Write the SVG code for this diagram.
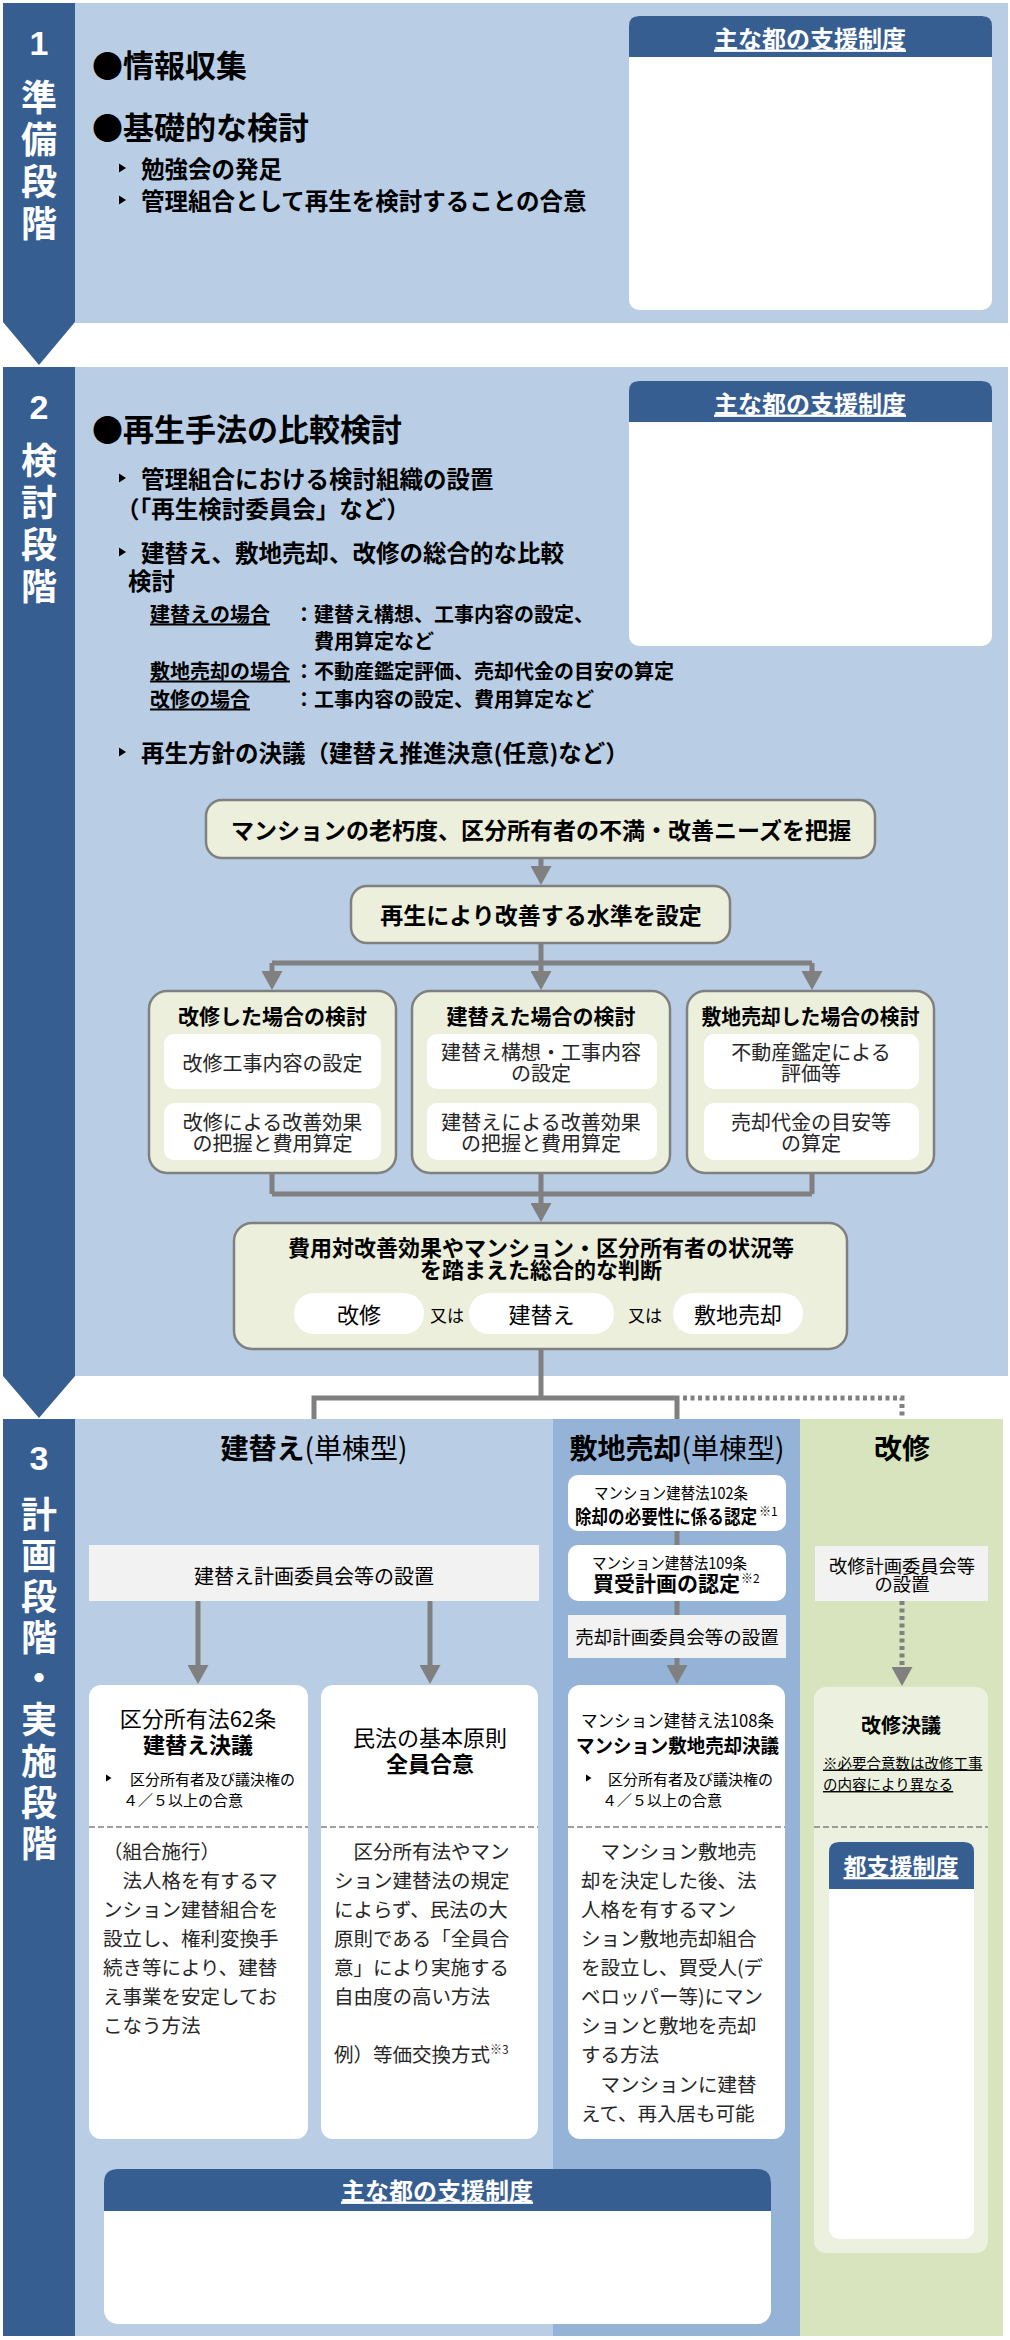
<svg xmlns="http://www.w3.org/2000/svg" width="1010" height="2340" viewBox="0 0 1010 2340">
<defs>
<style>
text{font-family:"Noto Sans CJK JP","Noto Sans",sans-serif;dominant-baseline:central;fill:#000}
.b{font-weight:700}
.m{text-anchor:middle}
.w{fill:#fff}
.u{text-decoration:underline}
.stage{font-size:36px;font-weight:700;fill:#fff;text-anchor:middle}
.num{font-size:34px;font-weight:700;fill:#fff;text-anchor:middle;font-family:"Liberation Sans",sans-serif}
.h1{font-size:31px;font-weight:700}
.li{font-size:23.5px;font-weight:700}
.sm{font-size:20px;font-weight:700}
.flow{fill:#EBEFDC;stroke:#808080;stroke-width:2.5}
.ft{font-size:20px;fill:#262626;text-anchor:middle}
.body{font-size:19.5px;fill:#262626}
.conn{fill:none;stroke:#808080;stroke-width:5}
.hdr{fill:#375E91}
.dash{stroke:#808080;stroke-width:1.5;stroke-dasharray:6 3}
.hd{font-size:24px;font-weight:700;fill:#fff;text-anchor:middle;text-decoration:underline}
</style>
<marker id="ah" markerUnits="userSpaceOnUse" markerWidth="19" markerHeight="21" refX="1" refY="10.5" orient="auto" viewBox="0 0 19 21"><path d="M0,0 L19,10.5 L0,21 Z" fill="#808080"/></marker>
<polygon id="tri" points="0,-4.5 7,0 0,4.5" fill="#000"/>
<polygon id="tris" points="0,-3.5 5.5,0 0,3.5" fill="#000"/>
</defs>

<!-- Section backgrounds -->
<g id="stage1">
<rect x="75" y="3" width="933" height="320" fill="#B9CDE5"/>
<path d="M3,3 H75 V322 L39,365 L3,322 Z" fill="#375E91"/>
<text class="num" x="39" y="43">1</text>
<text class="stage" x="39" y="95">準</text>
<text class="stage" x="39" y="137">備</text>
<text class="stage" x="39" y="179">段</text>
<text class="stage" x="39" y="221">階</text>
</g>
<g id="stage2">
<rect x="75" y="367" width="933" height="1009" fill="#B9CDE5"/>
<path d="M3,367 H75 V1376 L39,1418 L3,1376 Z" fill="#375E91"/>
<text class="num" x="39" y="407">2</text>
<text class="stage" x="39" y="458">検</text>
<text class="stage" x="39" y="500">討</text>
<text class="stage" x="39" y="542">段</text>
<text class="stage" x="39" y="584">階</text>
</g>
<g id="stage3">
<rect x="75" y="1419" width="478" height="917" fill="#B9CDE5"/>
<rect x="553" y="1419" width="247" height="917" fill="#95B3D7"/>
<rect x="800" y="1419" width="203" height="917" fill="#D7E4BD"/>
<path d="M3,1419 H75 V2336 H3 Z" fill="#375E91"/>
<text class="num" x="39" y="1458">3</text>
<text class="stage" x="39" y="1512">計</text>
<text class="stage" x="39" y="1553">画</text>
<text class="stage" x="39" y="1594">段</text>
<text class="stage" x="39" y="1635">階</text>
<text class="stage" x="39" y="1676">・</text>
<text class="stage" x="39" y="1717">実</text>
<text class="stage" x="39" y="1759">施</text>
<text class="stage" x="39" y="1800">段</text>
<text class="stage" x="39" y="1841">階</text>
</g>

<!-- Section 1 content -->
<g id="s1-text">
<text class="h1" x="92" y="63">●情報収集</text>
<text class="h1" x="92" y="125">●基礎的な検討</text>
<use href="#tri" x="119" y="168"/>
<text class="li" x="141" y="168">勉強会の発足</text>
<use href="#tri" x="119" y="200"/>
<text class="li" x="141" y="200">管理組合として再生を検討することの合意</text>
</g>
<g id="s1-support">
<rect x="629" y="16" width="363" height="294" rx="10" fill="#fff"/>
<path class="hdr" d="M629,57 V26 Q629,16 639,16 H982 Q992,16 992,26 V57 Z"/>
<text class="hd" x="810" y="37">主な都の支援制度</text>
</g>

<!-- Section 2 content -->
<g id="s2-text">
<text class="h1" x="92" y="427">●再生手法の比較検討</text>
<use href="#tri" x="119" y="478"/>
<text class="li" x="141" y="478">管理組合における検討組織の設置<tspan x="116" y="508">（「再生検討委員会」など）</tspan></text>
<use href="#tri" x="119" y="552"/>
<text class="li" x="141" y="552">建替え、敷地売却、改修の総合的な比較<tspan x="128" y="580">検討</tspan></text>
<text class="sm u" x="150" y="613">建替えの場合</text>
<text class="sm" x="294" y="613">：建替え構想、工事内容の設定、<tspan x="314" y="640">費用算定など</tspan></text>
<text class="sm u" x="150" y="670">敷地売却の場合</text>
<text class="sm" x="294" y="670">：不動産鑑定評価、売却代金の目安の算定</text>
<text class="sm u" x="150" y="698">改修の場合</text>
<text class="sm" x="294" y="698">：工事内容の設定、費用算定など</text>
<use href="#tri" x="119" y="752"/>
<text class="li" x="141" y="752">再生方針の決議（建替え推進決意(任意)など）</text>
</g>
<g id="s2-support">
<rect x="629" y="381" width="363" height="265" rx="10" fill="#fff"/>
<path class="hdr" d="M629,422 V391 Q629,381 639,381 H982 Q992,381 992,391 V422 Z"/>
<text class="hd" x="810" y="402">主な都の支援制度</text>
</g>

<!-- Flow nodes -->
<g id="n-grasp">
<rect class="flow" x="206" y="800" width="669" height="58" rx="16"/>
<text class="b m" x="541" y="829" font-size="23">マンションの老朽度、区分所有者の不満・改善ニーズを把握</text>
</g>
<g id="n-level">
<rect class="flow" x="351" y="886" width="379" height="57" rx="16"/>
<text class="b m" x="541" y="914" font-size="23">再生により改善する水準を設定</text>
</g>
<g id="n-kaishu-study">
<rect class="flow" x="149" y="991" width="247" height="182" rx="18"/>
<text class="b m" x="272.5" y="1015" font-size="21">改修した場合の検討</text>
<rect x="164" y="1034" width="217" height="55" rx="10" fill="#fff"/>
<text class="ft" x="272.5" y="1062">改修工事内容の設定</text>
<rect x="164" y="1103" width="217" height="57" rx="10" fill="#fff"/>
<text class="ft" x="272.5" y="1121">改修による改善効果<tspan x="272.5" y="1142">の把握と費用算定</tspan></text>
</g>
<g id="n-tatekae-study">
<rect class="flow" x="412" y="991" width="258" height="182" rx="18"/>
<text class="b m" x="541" y="1015" font-size="21">建替えた場合の検討</text>
<rect x="427" y="1034" width="230" height="55" rx="10" fill="#fff"/>
<text class="ft" x="541" y="1051">建替え構想・工事内容<tspan x="541" y="1072">の設定</tspan></text>
<rect x="427" y="1103" width="230" height="57" rx="10" fill="#fff"/>
<text class="ft" x="541" y="1121">建替えによる改善効果<tspan x="541" y="1142">の把握と費用算定</tspan></text>
</g>
<g id="n-baikyaku-study">
<rect class="flow" x="687" y="991" width="247" height="182" rx="18"/>
<text class="b m" x="810.5" y="1015" font-size="21" textLength="218" lengthAdjust="spacingAndGlyphs">敷地売却した場合の検討</text>
<rect x="704" y="1034" width="215" height="55" rx="10" fill="#fff"/>
<text class="ft" x="811" y="1051">不動産鑑定による<tspan x="811" y="1072">評価等</tspan></text>
<rect x="704" y="1103" width="215" height="57" rx="10" fill="#fff"/>
<text class="ft" x="811" y="1121">売却代金の目安等<tspan x="811" y="1142">の算定</tspan></text>
</g>
<g id="n-judge">
<rect class="flow" x="234" y="1223" width="613" height="126" rx="18"/>
<text class="b m" x="541" y="1246" font-size="22">費用対改善効果やマンション・区分所有者の状況等<tspan x="541" y="1268">を踏まえた総合的な判断</tspan></text>
<rect x="294" y="1293" width="130" height="41" rx="20" fill="#fff"/>
<text class="m" x="359" y="1313" font-size="22" fill="#262626">改修</text>
<text class="m" x="447" y="1314" font-size="17" fill="#262626">又は</text>
<rect x="469" y="1293" width="145" height="41" rx="20" fill="#fff"/>
<text class="m" x="541.5" y="1313" font-size="22" fill="#262626">建替え</text>
<text class="m" x="645" y="1314" font-size="17" fill="#262626">又は</text>
<rect x="673" y="1293" width="130" height="41" rx="20" fill="#fff"/>
<text class="m" x="738" y="1313" font-size="22" fill="#262626">敷地売却</text>
</g>

<!-- Section 3 column titles -->
<g id="s3-titles">
<text class="m" x="314" y="1447" font-size="28"><tspan font-weight="700">建替え</tspan>(単棟型)</text>
<text class="m" x="677" y="1447" font-size="28"><tspan font-weight="700">敷地売却</tspan>(単棟型)</text>
<text class="b m" x="902" y="1447" font-size="28">改修</text>
</g>

<!-- 建替え column -->
<g id="n-tatekae-committee">
<rect x="89" y="1545" width="450" height="56" fill="#F2F2F2"/>
<text class="m" x="314" y="1575" font-size="20" fill="#262626">建替え計画委員会等の設置</text>
</g>
<g id="n-tatekae-ketsugi">
<rect x="89" y="1685" width="219" height="454" rx="12" fill="#fff"/>
<text class="m" x="198" y="1717" font-size="22" fill="#262626">区分所有法62条<tspan x="198" y="1743" font-weight="700" fill="#000">建替え決議</tspan></text>
<use href="#tris" x="106" y="1778"/>
<text x="130" y="1778" font-size="15" fill="#262626">区分所有者及び議決権の<tspan x="123" y="1799">４／５以上の合意</tspan></text>
<line class="dash" x1="89" y1="1827" x2="308" y2="1827"/>
<text class="body" x="103" y="1850">（組合施行）<tspan x="103" y="1879">　法人格を有するマ</tspan><tspan x="103" y="1908">ンション建替組合を</tspan><tspan x="103" y="1937">設立し、権利変換手</tspan><tspan x="103" y="1966">続き等により、建替</tspan><tspan x="103" y="1995">え事業を安定してお</tspan><tspan x="103" y="2024">こなう方法</tspan></text>
</g>
<g id="n-zenin-goi">
<rect x="321" y="1685" width="217" height="454" rx="12" fill="#fff"/>
<text class="m" x="430" y="1736" font-size="22" fill="#262626">民法の基本原則<tspan x="430" y="1762" font-weight="700" fill="#000">全員合意</tspan></text>
<line class="dash" x1="321" y1="1827" x2="538" y2="1827"/>
<text class="body" x="334" y="1850">　区分所有法やマン<tspan x="334" y="1879">ション建替法の規定</tspan><tspan x="334" y="1908">によらず、民法の大</tspan><tspan x="334" y="1937">原則である「全員合</tspan><tspan x="334" y="1966">意」により実施する</tspan><tspan x="334" y="1995">自由度の高い方法</tspan></text>
<text class="body" x="334" y="2053">例）等価交換方式<tspan font-size="12" dy="-5">※3</tspan></text>
</g>

<!-- 敷地売却 column -->
<g id="n-102">
<rect x="568" y="1475" width="218" height="56" rx="10" fill="#fff"/>
<text x="594" y="1492" font-size="16" fill="#262626"><tspan textLength="154" lengthAdjust="spacingAndGlyphs">マンション建替法102条</tspan><tspan x="575" y="1515" font-size="19" font-weight="700" fill="#000" textLength="182" lengthAdjust="spacingAndGlyphs">除却の必要性に係る認定</tspan><tspan x="759" y="1510" font-size="12">※1</tspan></text>
</g>
<g id="n-109">
<rect x="568" y="1545" width="218" height="56" rx="10" fill="#fff"/>
<text x="592" y="1562" font-size="16" fill="#262626"><tspan textLength="155" lengthAdjust="spacingAndGlyphs">マンション建替法109条</tspan><tspan x="593" y="1582" font-size="21" font-weight="700" fill="#000">買受計画の認定</tspan><tspan x="741" y="1577" font-size="12">※2</tspan></text>
</g>
<g id="n-baikyaku-committee">
<rect x="568" y="1615" width="218" height="43" fill="#F2F2F2"/>
<text class="m" x="677" y="1636" font-size="18.5" fill="#262626">売却計画委員会等の設置</text>
</g>
<g id="n-baikyaku-ketsugi">
<rect x="568" y="1685" width="217" height="454" rx="12" fill="#fff"/>
<text x="581" y="1719" font-size="17" fill="#262626"><tspan textLength="193" lengthAdjust="spacingAndGlyphs">マンション建替え法108条</tspan><tspan x="576" y="1744" font-size="19.5" font-weight="700" fill="#000" textLength="203" lengthAdjust="spacingAndGlyphs">マンション敷地売却決議</tspan></text>
<use href="#tris" x="586" y="1778"/>
<text x="608" y="1778" font-size="15" fill="#262626">区分所有者及び議決権の<tspan x="602" y="1799">４／５以上の合意</tspan></text>
<line class="dash" x1="568" y1="1827" x2="785" y2="1827"/>
<text class="body" x="581" y="1850">　マンション敷地売<tspan x="581" y="1879">却を決定した後、法</tspan><tspan x="581" y="1908">人格を有するマン</tspan><tspan x="581" y="1937">ション敷地売却組合</tspan><tspan x="581" y="1966">を設立し、買受人(デ</tspan><tspan x="581" y="1995">ベロッパー等)にマン</tspan><tspan x="581" y="2024">ションと敷地を売却</tspan><tspan x="581" y="2053">する方法</tspan><tspan x="581" y="2083">　マンションに建替</tspan><tspan x="581" y="2112">えて、再入居も可能</tspan></text>
</g>

<!-- 改修 column -->
<g id="n-kaishu-committee">
<rect x="815" y="1546" width="173" height="55" fill="#F2F2F2"/>
<text class="m" x="902" y="1565" font-size="18.3" fill="#262626">改修計画委員会等<tspan x="902" y="1583">の設置</tspan></text>
</g>
<g id="n-kaishu-ketsugi">
<rect x="814" y="1687" width="174" height="566" rx="12" fill="#EBF1DE"/>
<text class="b m" x="901" y="1724" font-size="20">改修決議</text>
<text class="u" x="823" y="1762" font-size="14.5" fill="#262626">※必要合意数は改修工事<tspan x="823" y="1783">の内容により異なる</tspan></text>
<line class="dash" x1="814" y1="1827" x2="988" y2="1827"/>
</g>
<g id="n-kaishu-support">
<rect x="829" y="1842" width="145" height="397" rx="10" fill="#fff"/>
<path class="hdr" d="M829,1889 V1852 Q829,1842 839,1842 H964 Q974,1842 974,1852 V1889 Z"/>
<text class="hd" x="901" y="1865" style="font-size:23px">都支援制度</text>
</g>

<!-- bottom support box -->
<g id="s3-support">
<rect x="104" y="2169" width="667" height="155" rx="14" fill="#fff"/>
<path class="hdr" d="M104,2211 V2183 Q104,2169 118,2169 H757 Q771,2169 771,2183 V2211 Z"/>
<text class="hd" x="437" y="2189">主な都の支援制度</text>
</g>

<!-- Connectors -->
<g id="connectors">
<path class="conn" d="M541,858 V867" marker-end="url(#ah)"/>
<path class="conn" d="M541,943 V963"/>
<path class="conn" d="M272,963 H812" stroke-width="6"/>
<path class="conn" d="M272,963 V972" marker-end="url(#ah)"/>
<path class="conn" d="M541,963 V972" marker-end="url(#ah)"/>
<path class="conn" d="M812,963 V972" marker-end="url(#ah)"/>
<path class="conn" d="M272,1173 V1194 M541,1173 V1194 M812,1173 V1194"/>
<path class="conn" d="M272,1194 H812" stroke-width="6"/>
<path class="conn" d="M541,1194 V1204" marker-end="url(#ah)"/>
<path class="conn" d="M541,1349 V1398"/>
<path class="conn" d="M314,1419 V1398 H677 V1419"/>
<path class="conn" d="M683,1398 H902 V1419" stroke-dasharray="4 3.5"/>
<path class="conn" d="M198,1601 V1666" stroke-width="4.5" marker-end="url(#ah)"/>
<path class="conn" d="M430,1601 V1666" stroke-width="4.5" marker-end="url(#ah)"/>
<path class="conn" d="M677,1531 V1545 M677,1601 V1615" stroke-width="4.5"/>
<path class="conn" d="M677,1658 V1666" stroke-width="4.5" marker-end="url(#ah)"/>
<path class="conn" d="M902,1601 V1668" stroke-width="4.5" stroke-dasharray="4 3.5" marker-end="url(#ah)"/>
</g>
</svg>
